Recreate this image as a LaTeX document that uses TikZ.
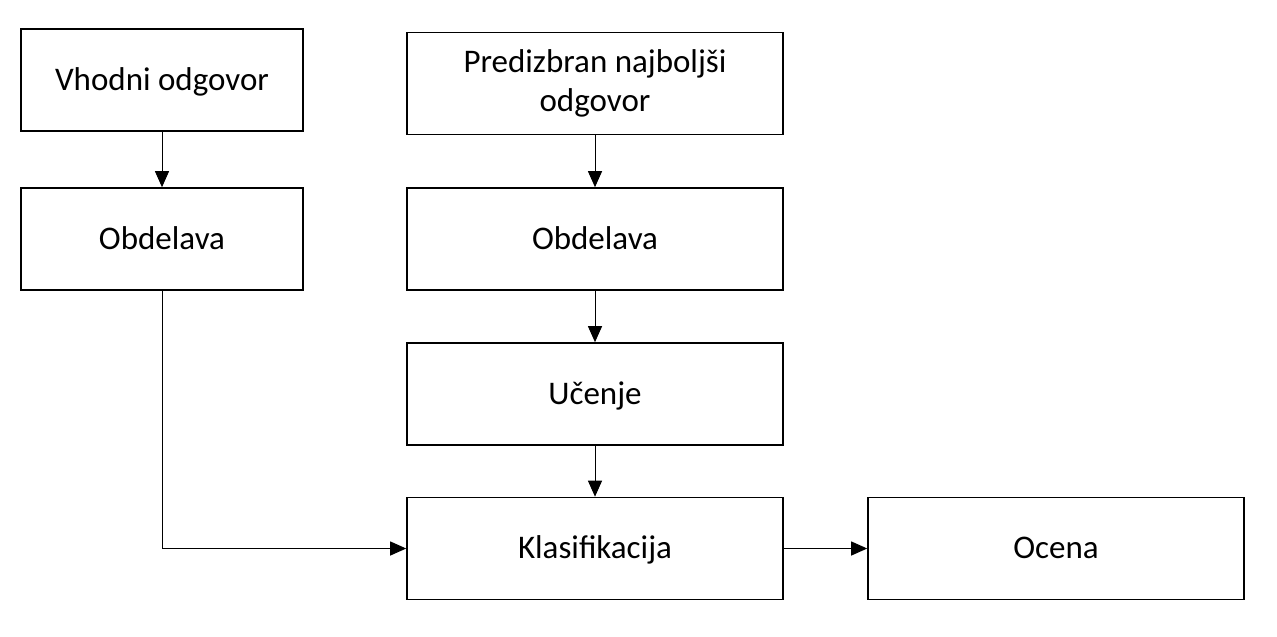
\documentclass[tikz,border=0pt]{standalone}
\usepackage{fontspec}
\setmainfont{Carlito}
\usetikzlibrary{arrows.meta}
\begin{document}
\begin{tikzpicture}[x=1pt,y=-1pt,
  box/.style={draw=black,line width=1.6pt,fill=white,inner sep=0pt,
    font=\fontsize{33}{39}\selectfont},
  single/.style={text height=26pt,text depth=6pt},
  wide/.style={box,minimum width=376pt,minimum height=102pt},
  narrow/.style={box,minimum width=282pt,minimum height=102pt},
  conn/.style={draw=black,line width=1pt,-{Triangle[length=16pt,width=14pt]}}]
\useasboundingbox (0,0) rectangle (1277,637);
\node[narrow,single] (vh) at (162,80) {Vhodni odgovor};
\node[narrow,single] (obl) at (162,239) {Obdelava};
\node[wide,align=center] (pr) at (595,83.5) {Predizbran najboljši\\odgovor};
\node[wide,single] (obr) at (595,239) {Obdelava};
\node[wide,single] (uc) at (595,394) {Učenje};
\node[wide,single] (kl) at (595,548.5) {Klasifikacija};
\node[wide,single] (oc) at (1056,548.5) {Ocena};
\draw[conn] (vh) -- (obl);
\draw[conn] (pr) -- (obr);
\draw[conn] (obr) -- (uc);
\draw[conn] (uc) -- (kl);
\draw[conn] (obl.south) |- (kl.west);
\draw[conn] (kl) -- (oc);
\end{tikzpicture}
\end{document}
